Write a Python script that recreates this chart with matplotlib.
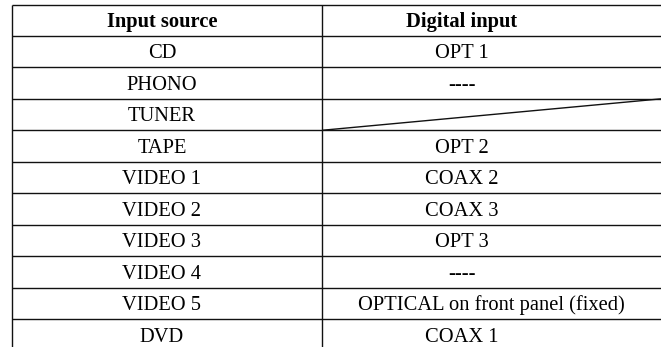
import matplotlib
matplotlib.use("Agg")
import matplotlib.pyplot as plt

# table content
header = ["Input source", "Digital input"]
sources = ["CD", "PHONO", "TUNER", "TAPE", "VIDEO 1", "VIDEO 2",
           "VIDEO 3", "VIDEO 4", "VIDEO 5", "DVD"]
digital = ["OPT 1", "----", None, "OPT 2", "COAX 2", "COAX 3",
           "OPT 3", "----", "OPTICAL on front panel (fixed)", "COAX 1"]

# layout in pixels
W, H = 661, 347
left, mid, right = 11.5, 322, 661
top, row_h = 4.5, 31.45
col1_x, col2_x = 162, 462
wide_x = (mid + right) / 2
base_off = 6.8  # baseline below row centre

fig = plt.figure(figsize=(W / 100, H / 100), dpi=100)
ax = fig.add_axes([0, 0, 1, 1])
ax.set_xlim(0, W)
ax.set_ylim(H, 0)
ax.axis("off")

line_kw = dict(color="#111111", lw=1.0, solid_capstyle="butt")
font = dict(family="Liberation Serif", fontsize=14.8, ha="center", va="baseline")

n_rows = len(sources) + 1
for i in range(n_rows):
    y = top + i * row_h
    ax.plot([left, right], [y, y], **line_kw)
bottom = top + n_rows * row_h
ax.plot([left, left], [top, bottom], **line_kw)
ax.plot([mid, mid], [top, bottom], **line_kw)

ax.text(col1_x, top + row_h / 2 + base_off, header[0], fontweight="bold", **font)
ax.text(col2_x, top + row_h / 2 + base_off, header[1], fontweight="bold", **font)

for i, (src, dig) in enumerate(zip(sources, digital)):
    yc = top + (i + 1.5) * row_h + base_off
    ax.text(col1_x, yc, src, **font)
    if dig is None:
        # empty cell crossed by a diagonal
        y0 = top + (i + 1) * row_h
        ax.plot([mid, right], [y0 + row_h, y0], **line_kw)
    else:
        x = wide_x if len(dig) > 12 else col2_x
        ax.text(x, yc, dig, **font)

fig.savefig("out.png", dpi=100)
